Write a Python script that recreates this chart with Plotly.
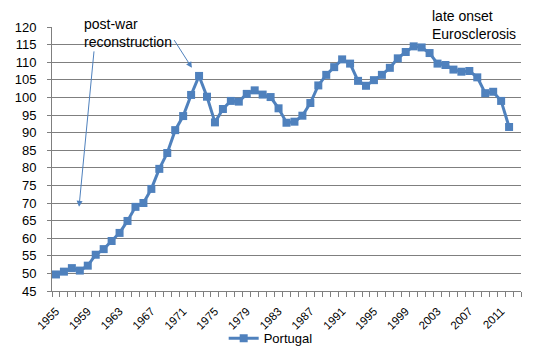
import plotly.graph_objects as go

years = list(range(1955, 2014))
values = [49.7, 50.5, 51.5, 50.8, 52.2, 55.3, 56.9, 59.2, 61.5, 64.9,
          68.9, 70.0, 74.0, 79.7, 84.2, 90.7, 94.7, 100.7, 106.1, 100.2,
          92.9, 96.7, 99.0, 98.8, 101.0, 102.0, 100.8, 100.1, 96.9, 92.8,
          93.1, 94.8, 98.4, 103.4, 106.4, 108.6, 110.8, 109.6, 104.7, 103.3,
          104.9, 106.4, 108.4, 111.1, 112.9, 114.5, 114.2, 112.6, 109.6, 109.2,
          107.9, 107.3, 107.5, 105.7, 101.2, 101.6, 99.0, 91.6, None]
tick_years = list(range(1955, 2012, 4))
tick_labels = [str(y) for y in tick_years]
y_ticks = list(range(45, 121, 5))

# tick marks sit on category boundaries
boundaries = [y - 0.5 for y in years] + [years[-1] + 0.5]

BLUE = "#4F81BD"
AXIS = "#7F7F7F"
FONT = "Liberation Sans, Arial, sans-serif"
xrange = [years[0] - 0.5, years[-1] + 0.5]

fig = go.Figure()
fig.add_trace(go.Scatter(
    x=years, y=values, mode="lines+markers", name="Portugal",
    line=dict(color=BLUE, width=3),
    marker=dict(symbol="square", size=8, color=BLUE),
    connectgaps=False,
))

fig.update_layout(
    width=536, height=358,
    margin=dict(l=52, r=15, t=27, b=67, autoexpand=False),
    paper_bgcolor="white", plot_bgcolor="white",
    font=dict(family=FONT, size=13, color="black"),
    showlegend=True,
    legend=dict(orientation="h", xref="container", yref="container",
                x=0.505, xanchor="center", y=0.097, yanchor="top",
                bgcolor="rgba(0,0,0,0)",
                font=dict(size=13, color="black")),
    xaxis=dict(
        range=xrange, automargin=False,
        tickmode="array", tickvals=tick_years, ticktext=tick_labels,
        tickangle=-45, ticks="outside", ticklen=8, tickcolor="rgba(0,0,0,0)",
        showgrid=False, zeroline=False,
        showline=True, linecolor=AXIS, linewidth=1,
        tickfont=dict(size=11.5, color="black"),
    ),
    xaxis2=dict(
        range=xrange, automargin=False, overlaying="x", side="bottom",
        anchor="y", matches="x",
        tickmode="array", tickvals=boundaries, showticklabels=False,
        ticks="outside", ticklen=5, tickcolor=AXIS, tickwidth=1,
        showgrid=False, zeroline=False, showline=False,
    ),
    yaxis=dict(
        range=[45, 120], tickmode="array", tickvals=y_ticks, automargin=False,
        ticks="outside", ticklen=4, tickcolor=AXIS, ticklabelstandoff=8,
        showgrid=True, gridcolor=AXIS, gridwidth=1,
        showline=True, linecolor=AXIS, linewidth=1, zeroline=False,
        tickfont=dict(size=13, color="black"),
    ),
)
# invisible helper trace so the boundary-tick axis is drawn
fig.add_trace(go.Scatter(x=[xrange[0]], y=[None], xaxis="x2", yaxis="y",
                         showlegend=False, hoverinfo="skip", mode="markers"))

fig.add_annotation(text="post-war<br>reconstruction", xref="paper", yref="paper",
                   x=0.063, y=1.05, xanchor="left", yanchor="top", align="left",
                   showarrow=False, font=dict(size=14, color="black"))
fig.add_annotation(text="late onset<br>Eurosclerosis", xref="paper", yref="paper",
                   x=0.807, y=1.08, xanchor="left", yanchor="top", align="left",
                   showarrow=False, font=dict(size=14, color="black"))
fig.add_annotation(text="", x=1957.9, y=68.9, ax=1959.8, ay=113.5,
                   xref="x", yref="y", axref="x", ayref="y",
                   showarrow=True, arrowhead=2, arrowsize=1.2, arrowwidth=1,
                   arrowcolor=BLUE)
fig.add_annotation(text="", x=1972.1, y=108.4, ax=1969.75, ay=116.7,
                   xref="x", yref="y", axref="x", ayref="y",
                   showarrow=True, arrowhead=2, arrowsize=1.2, arrowwidth=1,
                   arrowcolor=BLUE)

fig.write_html("out.html", config={"displayModeBar": False},
               post_script="document.body.style.margin='0';document.body.style.padding='0';")
